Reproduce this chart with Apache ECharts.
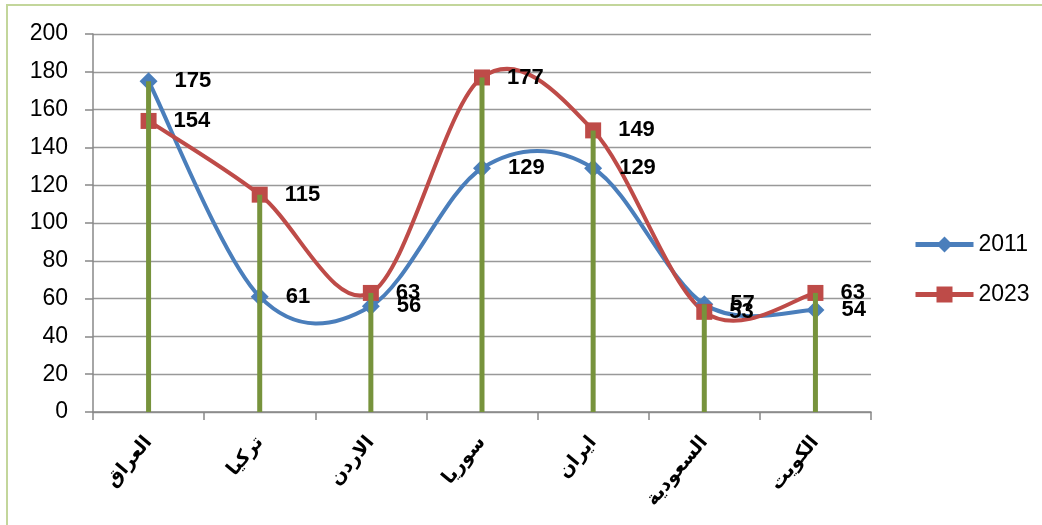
<!DOCTYPE html>
<html>
<head>
<meta charset="utf-8">
<script src="https://cdn.jsdelivr.net/npm/echarts@6/dist/echarts.min.js"></script>
<style>
  html, body { margin: 0; padding: 0; background: #fff; }
  #chart { width: 1042px; height: 525px; }
</style>
</head>
<body>
<div id="chart"></div>
<script>
const categories = ['العراق', 'تركيا', 'الاردن', 'سوريا', 'ايران', 'السعودية', 'الكويت'];
const values2011 = [175, 61, 56, 129, 129, 57, 54];
const values2023 = [154, 115, 63, 177, 149, 53, 63];
const yTicks = { min: 0, max: 200, interval: 20 };

const BLUE = '#4a7ebb';
const RED = '#be4b48';
const GREEN = '#77933c';
const LATIN = 'Liberation Sans, Arial, sans-serif';

// drop lines go from the higher of the two points down to the axis
const dropLines = values2011.map((v, i) => Math.max(v, values2023[i]));

// office-style smoothed curve: bezier segments, control points at +-(next - prev) / 6
const curveSeries = (name, values, color, z) => ({
  name: name + '-curve',
  type: 'custom',
  data: values.map((v, i) => [i, v]),
  z,
  silent: true,
  renderItem: (params, api) => {
    const i = params.dataIndex;
    if (i >= values.length - 1) return null;
    const pt = k => api.coord([k, values[Math.max(0, Math.min(values.length - 1, k))]]);
    const p0 = pt(i - 1), p1 = pt(i), p2 = pt(i + 1), p3 = pt(i + 2);
    const a = i === 0 ? p1 : p0;
    const d = i + 1 === values.length - 1 ? p2 : p3;
    return {
      type: 'bezierCurve',
      shape: {
        x1: p1[0], y1: p1[1],
        x2: p2[0], y2: p2[1],
        cpx1: p1[0] + (p2[0] - a[0]) / 6,
        cpy1: p1[1] + (p2[1] - a[1]) / 6,
        cpx2: p2[0] - (d[0] - p1[0]) / 6,
        cpy2: p2[1] - (d[1] - p1[1]) / 6,
      },
      style: { fill: 'none', stroke: color, lineWidth: 4, lineCap: 'round' },
    };
  },
});

const chart = echarts.init(document.getElementById('chart'));

const labelStyle = {
  show: true,
  position: 'right',
  distance: 17,
  color: '#000',
  fontFamily: LATIN,
  fontWeight: 'bold',
  fontSize: 22,
};

chart.setOption({
  animation: false,
  graphic: [
    {
      type: 'rect',
      shape: { x: 7, y: 5, width: 1100, height: 600 },
      style: { fill: 'none', stroke: '#c3d69b', lineWidth: 2 },
      silent: true,
      z: -10,
    },
  ],
  grid: { left: 93, right: 171, top: 34, bottom: 113 },
  legend: {
    orient: 'vertical',
    left: 908,
    top: 228,
    itemGap: 27,
    itemWidth: 58,
    itemHeight: 20,
    data: [
      { name: '2011', lineStyle: { color: BLUE, width: 5, opacity: 1 } },
      { name: '2023', lineStyle: { color: RED, width: 5, opacity: 1 } },
    ],
    textStyle: { fontFamily: LATIN, fontSize: 23, color: '#000' },
  },
  xAxis: {
    type: 'category',
    data: categories,
    boundaryGap: true,
    axisLine: { lineStyle: { color: '#888', width: 1.5 } },
    axisTick: { show: true, length: 8, lineStyle: { color: '#888', width: 1.5 } },
    axisLabel: {
      rotate: 50,
      interval: 0,
      margin: 27,
      color: '#000',
      fontFamily: 'DejaVu Sans, sans-serif',
      fontWeight: 'bold',
      fontSize: 19,
    },
  },
  yAxis: {
    type: 'value',
    min: yTicks.min,
    max: yTicks.max,
    interval: yTicks.interval,
    axisLine: { show: true, lineStyle: { color: '#888', width: 1.5 } },
    axisTick: { show: true, length: 8, lineStyle: { color: '#888', width: 1.5 } },
    splitLine: { show: true, lineStyle: { color: '#999', width: 1.3 } },
    axisLabel: {
      margin: 25,
      color: '#000',
      fontFamily: LATIN,
      fontSize: 23,
    },
  },
  series: [
    curveSeries('2011', values2011, BLUE, 2),
    curveSeries('2023', values2023, RED, 2),
    {
      name: '2011',
      type: 'line',
      data: values2011,
      symbol: 'diamond',
      symbolSize: 18,
      itemStyle: { color: BLUE },
      lineStyle: { color: BLUE, width: 4, opacity: 0 },
      label: labelStyle,
      z: 3,
    },
    {
      name: '2023',
      type: 'line',
      data: values2023,
      symbol: 'rect',
      symbolSize: 16,
      itemStyle: { color: RED },
      lineStyle: { color: RED, width: 4, opacity: 0 },
      label: labelStyle,
      z: 4,
    },
    {
      name: 'drop',
      type: 'bar',
      data: dropLines,
      barWidth: 5,
      itemStyle: { color: GREEN },
      z: 5,
      silent: true,
    },
  ],
});
</script>
</body>
</html>
